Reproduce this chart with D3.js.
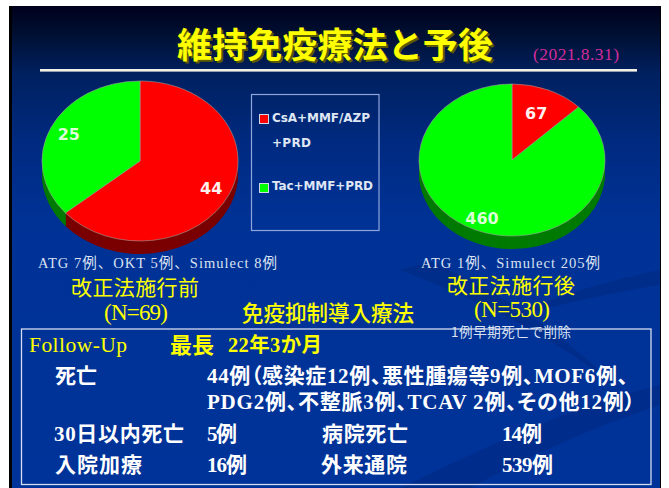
<!DOCTYPE html>
<html lang="ja"><head><meta charset="utf-8">
<script src="https://cdn.jsdelivr.net/npm/d3@7"></script>
<style>html,body{margin:0;padding:0;background:#fff;overflow:hidden}svg{display:block}</style>
</head><body><div id="c"></div>
<script>
const categories = ["CsA+MMF/AZP +PRD", "Tac+MMF+PRD"];
const beforeValues = [44, 25];
const afterValues = [67, 460];
const titleText = "維持免疫療法と予後";
const dateText = "(2021.8.31)";
const beforeNote = "ATG 7例、OKT 5例、Simulect 8例";
const afterNote = "ATG 1例、Simulect 205例";
const beforeLabel = ["改正法施行前", "(N=69)"];
const afterLabel = ["改正法施行後", "(N=530)"];
const inductionLabel = "免疫抑制導入療法";
const excludedNote = "1例早期死亡で削除";
const colors = ["#ff0000", "#00ff00"];
const sideColors = ["#7a0000", "#007a00"];

const W = 669, H = 488;
const CJK = '"Liberation Serif","Noto Sans CJK JP"';
const svg = d3.select("#c").append("svg").attr("width", W).attr("height", H);
const defs = svg.append("defs");
const grad = defs.append("linearGradient").attr("id","bg").attr("x1",0).attr("x2",0).attr("y1",0).attr("y2",1);
[[0,"#00001c"],[0.06,"#001033"],[0.14,"#00205f"],[0.28,"#002a80"],[0.45,"#003296"],[1,"#003399"]]
  .forEach(s=>grad.append("stop").attr("offset",s[0]).attr("stop-color",s[1]));

// slide
svg.append("rect").attr("x",9).attr("y",6).attr("width",652).attr("height",482).attr("fill","#000");
svg.append("rect").attr("x",12).attr("y",6).attr("width",648).attr("height",482).attr("fill","url(#bg)");
// background swooshes
const sw = svg.append("g").attr("fill","#00287f").attr("opacity",0.5);
sw.append("path").attr("d","M660 385 C560 410 480 450 400 488 L470 488 C540 450 600 425 660 405Z");
sw.append("path").attr("d","M400 270 C480 300 560 340 620 390 C570 340 500 290 430 262Z");
sw.append("path").attr("d","M660 270 C610 280 560 295 500 320 C560 305 610 292 660 285Z");

function txt(t,x,y,size,fill,opts={}){
  const s = svg.append("text").attr("x",x).attr("y",y).attr("font-size",size).attr("fill",fill)
    .attr("font-family",opts.family||CJK).attr("font-weight",opts.weight||"normal").text(t);
  if(opts.len) s.attr("textLength",opts.len).attr("lengthAdjust","spacing");
  if(opts.anchor) s.attr("text-anchor",opts.anchor);
  if(opts.palt) s.style("font-feature-settings",'"palt"');
  if(opts.shadow) s.style("text-shadow",opts.shadow);
  return s;
}
// title
txt(titleText,177,58,35,"#ffff00",{family:'"Noto Sans CJK JP"',weight:"bold",len:316,shadow:"2px 2px 0 #5a5a00"});
txt(dateText,533,60,17.5,"#d22c9a",{len:86});
svg.append("rect").attr("x",40).attr("y",69).attr("width",597).attr("height",2.6).attr("fill","#f2f2e4");

// pies
function drawPie(values,cx,cy,rx,ry,depth,labelR){
  const k = ry/rx;
  const pie = d3.pie().sort(null).value(d=>d)(values);
  const arc = d3.arc().innerRadius(0).outerRadius(rx);
  const g = svg.append("g");
  for(let i=depth;i>=1;i--){
    g.append("g").attr("transform",`translate(${cx},${cy+i}) scale(1,${k})`)
      .selectAll("path").data(pie).join("path").attr("d",arc).attr("fill",(d,j)=>sideColors[j]);
  }
  g.append("g").attr("transform",`translate(${cx},${cy}) scale(1,${k})`)
    .selectAll("path").data(pie).join("path").attr("d",arc).attr("fill",(d,j)=>colors[j])
    .attr("stroke","#9c9c9c").attr("stroke-opacity",0.6).attr("stroke-width",1).attr("vector-effect","non-scaling-stroke");
  pie.forEach((d,j)=>{
    const r = rx*labelR[j];
    const p = d3.arc().innerRadius(r).outerRadius(r).centroid(d);
    txt(d.value,cx+p[0],cy+p[1]*k+6,16,j===1?"#dcffd8":"#fff0f0",{family:'"DejaVu Sans"',weight:"bold",anchor:"middle"});
  });
}
drawPie(beforeValues,140,161,98,80,13,[0.8,0.8]);
drawPie(afterValues,512,160,93,76,13,[0.67,0.83]);

// legend
svg.append("rect").attr("x",251.5).attr("y",94.5).attr("width",127.5).attr("height",136)
  .attr("fill","none").attr("stroke","#8ea6dc").attr("stroke-width",1.2);
const legY = d3.scalePoint().domain(categories).range([114,183]);
categories.forEach((c,i)=>{
  svg.append("rect").attr("x",259.5).attr("y",legY(c)+.5).attr("width",9).attr("height",9)
    .attr("fill",colors[i]).attr("stroke","#cfd6e8").attr("stroke-width",1);
});
const LF = {family:'"DejaVu Sans"',weight:"bold"};
txt("CsA+MMF/AZP",272,122,12,"#dfe6f4",{...LF,len:98});
txt("+PRD",272,147,12,"#dfe6f4",{...LF,len:39});
txt("Tac+MMF+PRD",272,190,12,"#dfe6f4",{...LF,len:101});

// notes & headings
txt(beforeNote,38,268,14.5,"#dbe2f2",{len:239});
txt(afterNote,421,268,14.5,"#dbe2f2",{len:179});
const Y = {family:'"Noto Sans CJK JP"'};
txt(beforeLabel[0],71,295,21,"#ffff00",{...Y,len:128});
txt(beforeLabel[1],104,320,23,"#ffff00",{len:64});
txt(afterLabel[0],447,293,21,"#ffff00",{...Y,len:128});
txt(afterLabel[1],474,317,23,"#ffff00",{len:76});
txt(inductionLabel,242,321,21.5,"#ffff00",{family:'"Noto Sans CJK JP"',weight:500,len:172});

// outcomes box
svg.append("rect").attr("x",21.5).attr("y",329).attr("width",629.5).attr("height",155.5)
  .attr("fill","none").attr("stroke","#d4dcf0").attr("stroke-width",1.3);
txt(excludedNote,451,337,13.5,"#dbe2f2",{family:'"Noto Sans CJK JP"',len:120});
const B = {weight:"bold"};
txt("Follow-Up",29,352,21.5,"#ffff00",{len:98});
txt("最長",170,353,22,"#ffff00",{...B,len:44});
txt("22年3か月",228,352,20.5,"#ffff00",{...B,len:94});
const W1="#ffffff";
txt("死亡",55,383,21,W1,{...B,len:42});
txt("44例（感染症12例、悪性腫瘍等9例、MOF6例、",207,383,21,W1,{...B,len:421,palt:true});
txt("PDG2例、不整脈3例、TCAV 2例、その他12例）",207,409,21,W1,{...B,len:428,palt:true});
txt("30日以内死亡",54,441,21,W1,{...B,len:130});
txt("5例",207,441,21,W1,{...B,len:30});
txt("病院死亡",322,441,21,W1,{...B,len:86});
txt("14例",502,441,21,W1,{...B,len:40});
txt("入院加療",55,472,21,W1,{...B,len:87});
txt("16例",207,472,21,W1,{...B,len:40});
txt("外来通院",321,472,21,W1,{...B,len:86});
txt("539例",502,472,21,W1,{...B,len:51});
</script></body></html>
